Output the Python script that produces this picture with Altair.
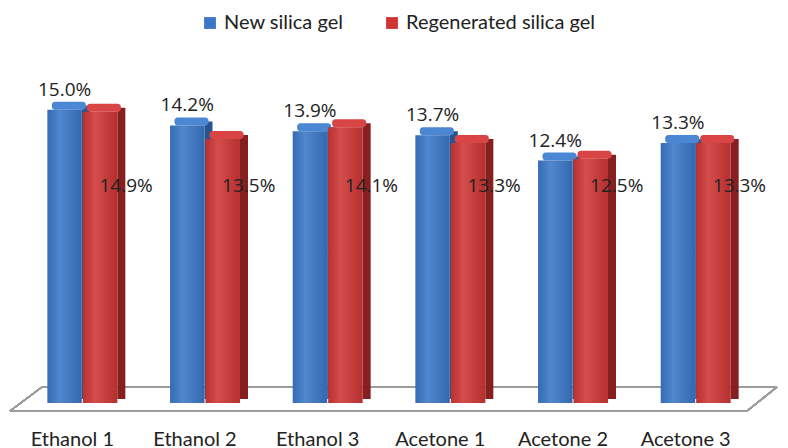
import altair as alt
import pandas as pd

categories = ["Ethanol 1", "Ethanol 2", "Ethanol 3", "Acetone 1", "Acetone 2", "Acetone 3"]
series_names = ["New silica gel", "Regenerated silica gel"]
new_gel = [15.0, 14.2, 13.9, 13.7, 12.4, 13.3]
regen_gel = [14.9, 13.5, 14.1, 13.3, 12.5, 13.3]

front_colors = ["#3a77c6", "#cf3535"]
side_colors = ["#28548e", "#862020"]
top_colors = ["#4b87d3", "#d94545"]

rows = []
for i, c in enumerate(categories):
    rows.append({"category": c, "series": series_names[0], "value": new_gel[i]})
    rows.append({"category": c, "series": series_names[1], "value": regen_gel[i]})
df = pd.DataFrame(rows)

xenc = alt.X("category:N", sort=categories,
             scale=alt.Scale(paddingInner=0.43, paddingOuter=0.215),
             axis=alt.Axis(title=None, domain=False, ticks=False, labelAngle=0,
                           labelFont="Lato", labelFontSize=20, labelColor="#222222",
                           labelPadding=26, labelOffset=-10))
xoff = alt.XOffset("series:N", scale=alt.Scale(domain=series_names, paddingInner=0.03))
yenc = alt.Y("value:Q", scale=alt.Scale(domain=[0, 20]), axis=None)

base = alt.Chart(df).transform_calculate(
    label="format(datum.value, '.1f') + '%'"
)
grouped = base.encode(x=xenc, xOffset=xoff)
blue = base.transform_filter(alt.datum.series == series_names[0]).encode(x=xenc, y=yenc)
red = base.transform_filter(alt.datum.series == series_names[1]).encode(x=xenc, y=yenc)

# floor (decorative parallelogram)
floor_color = "#9c9c9c"
floor_top = alt.Chart(df).mark_rule(color=floor_color, strokeWidth=1.5).encode(
    x=alt.value(21), x2=alt.value(756), y=alt.value(375))
floor_bottom = alt.Chart(df).mark_rule(color=floor_color, strokeWidth=1.5).encode(
    x=alt.value(-11), x2=alt.value(726), y=alt.value(399))
floor_left = alt.Chart(df).mark_rule(color=floor_color, strokeWidth=1.5).encode(
    x=alt.value(21), x2=alt.value(-11), y=alt.value(375), y2=alt.value(399))
floor_right = alt.Chart(df).mark_rule(color=floor_color, strokeWidth=1.5).encode(
    x=alt.value(756), x2=alt.value(726), y=alt.value(375), y2=alt.value(399))

blue_side = blue.mark_bar(width=8, xOffset=3.5, yOffset=-4, color=side_colors[0])
blue_top = blue.mark_tick(thickness=8, size=34, xOffset=-13.5, yOffset=-4,
                          color=top_colors[0], cornerRadius=3, opacity=1)
red_side = red.mark_bar(width=8, xOffset=39, yOffset=-4, color=side_colors[1])
red_top = red.mark_tick(thickness=8, size=34, xOffset=21.5, yOffset=-4,
                        color=top_colors[1], cornerRadius=3, opacity=1)

blue_front = grouped.transform_filter(alt.datum.series == series_names[0]).mark_bar().encode(
    y=yenc,
    color=alt.Color("series:N", scale=alt.Scale(domain=series_names, range=front_colors),
                    legend=alt.Legend(title=None)))
red_front = grouped.transform_filter(alt.datum.series == series_names[1]).mark_bar().encode(
    y=yenc,
    color=alt.Color("series:N", scale=alt.Scale(domain=series_names, range=front_colors),
                    legend=alt.Legend(title=None)))
grad = alt.LinearGradient(
    gradient="linear", x1=0, y1=0, x2=1, y2=0,
    stops=[alt.GradientStop(color="rgba(0,0,0,0.08)", offset=0),
           alt.GradientStop(color="rgba(255,255,255,0.12)", offset=0.35),
           alt.GradientStop(color="rgba(0,0,0,0.12)", offset=1)])
shine = grouped.mark_bar(fill=grad).encode(y=yenc)

blue_text = grouped.transform_filter(alt.datum.series == series_names[0]).mark_text(
    font="Open Sans", fontSize=19, baseline="bottom", dy=-10, dx=0, color="#222222"
).encode(y=yenc, text="label:N")
red_text = grouped.transform_filter(alt.datum.series == series_names[1]).transform_calculate(
    ly="11.1"
).mark_text(
    font="Open Sans", fontSize=19, baseline="middle", dx=26, color="#222222"
).encode(y=alt.Y("ly:Q", scale=alt.Scale(domain=[0, 20]), axis=None), text="label:N")

chart = alt.layer(
    floor_top, floor_bottom, floor_left, floor_right,
    blue_side, blue_top, blue_front,
    red_side, red_top, red_front,
    shine, blue_text, red_text
).properties(
    width=736, height=391,
    autosize=alt.AutoSizeParams(type="none"),
    padding={"left": 13, "top": 4, "right": 23, "bottom": 45},
).configure_view(stroke=None).configure_legend(
    orient="none", legendX=179, legendY=1, direction="horizontal",
    symbolType="square", symbolSize=140, symbolStrokeWidth=0, labelLimit=0,
    labelFont="Lato", labelFontSize=20, labelColor="#222222", columnPadding=38
)

chart.save("out.html", embed_options={"renderer": "svg", "actions": False})
